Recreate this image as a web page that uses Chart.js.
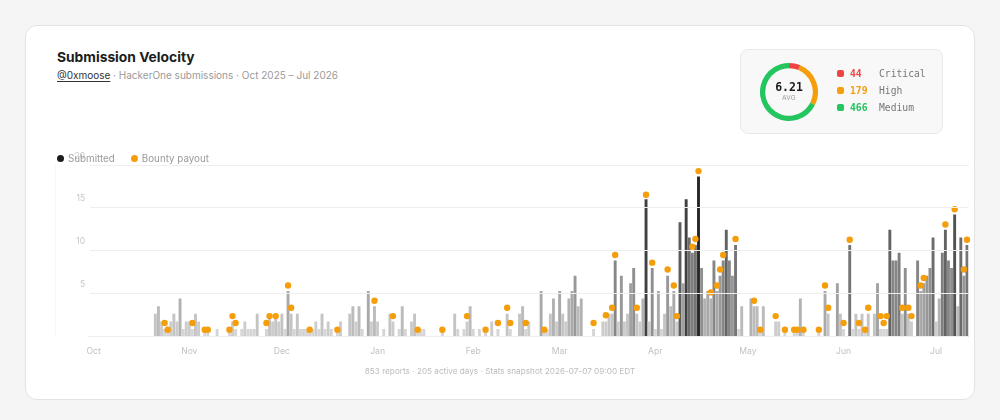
<!DOCTYPE html>
<html>
<head>
<meta charset="utf-8">
<script src="https://cdn.jsdelivr.net/npm/chart.js@4.4.1/dist/chart.umd.min.js"></script>
<style>
  body { margin: 0; background: #f5f5f5; font-family: 'Inter', sans-serif; }
  .card { position: absolute; left: 25px; top: 25px; width: 948px; height: 373px; background: #fff;
          border: 1px solid #e4e4e4; border-radius: 12px; }
  .title { position: absolute; left: 57px; top: 49px; font-size: 13.8px; font-weight: 700; color: #1c1c1c; }
  .sub { position: absolute; left: 57px; top: 69px; font-size: 10px; color: #9a9a9a; white-space: nowrap; }
  .sub u { color: #333; text-underline-offset: 2px; text-decoration-thickness: 1px; }
  .legend { position: absolute; left: 57px; top: 153px; font-size: 9.8px; color: #9a9a9a; display: flex; gap: 16px; }
  .legend span { display: flex; align-items: center; }
  .legend i { display: inline-block; width: 7px; height: 7px; border-radius: 50%; margin-right: 4px; }
  .stats { position: absolute; left: 740px; top: 49px; width: 201px; height: 83px; background: #f8f8f8;
           border: 1px solid #e9e9e9; border-radius: 8px; }
  .avg { position: absolute; left: 760px; top: 80px; width: 58px; text-align: center; }
  .avg b { display: block; font-family: 'DejaVu Sans Mono', monospace; font-size: 11.5px; color: #1a1a1a; line-height: 14px; }
  .avg small { display: block; font-size: 6.5px; color: #999; line-height: 9px; letter-spacing: 0.3px; }
  .sev { position: absolute; left: 837px; font-family: 'DejaVu Sans Mono', monospace; font-size: 9.7px;
         display: flex; align-items: center; white-space: nowrap; }
  .sev i { display: inline-block; width: 7px; height: 7px; border-radius: 2px; margin-right: 6px; }
  .sev b { display: inline-block; width: 29px; }
  .sev em { font-style: normal; color: #777; }
  .foot { position: absolute; left: 0; width: 1000px; top: 366px; text-align: center; font-size: 8.2px; color: #bcbcbc; }
  #wrap { position: absolute; left: 55px; top: 150px; width: 922px; height: 217px; }
  #donutWrap { position: absolute; left: 760px; top: 63px; width: 58px; height: 58px; }
</style>
</head>
<body>
<div class="card"></div>
<div class="title">Submission Velocity</div>
<div class="sub"><u>@0xmoose</u> · HackerOne submissions · Oct 2025 – Jul 2026</div>

<div class="stats"></div>
<div id="donutWrap"><canvas id="severityDonut"></canvas></div>
<div class="avg"><b>6.21</b><small>AVG</small></div>
<div class="sev" style="top:68px"><i style="background:#ef4444"></i><b style="color:#ef4444">44</b><em>Critical</em></div>
<div class="sev" style="top:85px"><i style="background:#f59e0b"></i><b style="color:#f59e0b">179</b><em>High</em></div>
<div class="sev" style="top:102px"><i style="background:#22c55e"></i><b style="color:#22c55e">466</b><em>Medium</em></div>

<div id="wrap"><canvas id="velocityChart"></canvas></div>
<div class="legend">
  <span><i style="background:#1c1c1c"></i>Submitted</span>
  <span><i style="background:#f59e0b"></i>Bounty payout</span>
</div>
<div class="foot">853 reports · 205 active days · Stats snapshot 2026-07-07 09:00 EDT</div>

<script>
// day offsets are counted from 2025-10-01
const activeDay = [20,21,22,23,24,25,26,27,28,29,30,31,32,33,34,36,37,40,44,45,46,48,49,50,51,52,53,56,57,58,59,60,61,62,63,64,65,66,
  67,68,69,70,71,72,73,74,75,76,77,79,80,83,84,85,86,87,89,90,91,92,94,96,97,99,100,101,103,104,105,106,107,113,
  117,118,120,121,122,123,125,127,129,131,134,135,138,139,140,141,145,146,147,148,149,150,151,152,153,154,155,156,157,158,162,
  165,166,167,168,169,170,171,172,173,174,175,176,177,178,179,180,181,182,183,184,185,186,187,188,189,190,191,192,193,194,195,196,197,198,199,200,201,202,203,204,205,206,207,208,209,210,
  213,214,215,216,217,221,222,224,227,228,229,230,235,237,238,241,242,243,245,246,247,248,249,250,251,253,254,
  255,256,257,258,259,260,261,262,263,264,265,267,268,269,270,271,272,273,274,275,276,277,278,279,280,281,282,283];
const submitted = [3,4,2,1,1,2,3,2,5,1,2,2,1,3,2,1,1,1,1,2,1,1,2,1,1,1,3,1,3,2,3,2,3,1,6,3,1,3,
  1,1,1,1,1,2,1,3,1,2,1,1,2,3,4,2,4,1,6,2,4,2,1,3,2,1,4,1,2,3,1,1,1,1,
  3,1,1,2,4,1,1,1,2,1,3,1,3,4,1,2,6,1,1,3,5,2,6,3,2,5,6,8,4,5,1,
  2,2,3,3,10,2,8,2,3,7,9,3,2,5,18,2,9,1,6,1,3,8,4,6,2,15,7,18,13,11,12,21,9,5,6,5,10,6,8,10,14,10,8,12,1,4,
  5,4,4,1,4,2,2,1,1,1,5,1,1,6,3,7,3,1,12,1,3,1,3,1,3,3,7,
  1,1,1,14,10,10,11,3,9,3,2,10,6,7,8,9,13,2,5,11,14,10,9,16,4,13,8,12];

const bountyDay = [23,24,32,36,37,44,45,46,56,57,59,63,64,70,79,91,97,105,113,121,127,131,134,135,140,146,162,
  166,168,169,176,179,181,186,188,189,194,195,196,200,202,203,204,208,214,216,221,224,227,228,230,235,237,238,
  243,245,248,250,251,255,256,257,262,264,265,268,269,276,279,282,283];
const bountyLevel = [1.8,0.9,1.8,0.9,0.9,0.9,2.7,1.8,1.8,2.7,2.7,6.7,3.8,0.9,0.9,4.7,2.7,0.9,0.9,2.7,0.9,1.8,3.8,1.8,1.8,0.9,1.8,
  2.8,3.8,10.7,3.8,18.6,9.7,8.8,6.7,2.7,11.8,12.8,21.7,5.8,6.7,8.8,10.7,12.8,4.7,0.9,2.7,0.9,0.9,0.9,0.9,0.9,6.7,3.8,
  1.8,12.7,1.8,0.9,3.8,2.7,1.8,2.7,3.8,3.8,2.7,6.7,7.7,14.7,16.7,8.8,12.7];

const monthTicks = ['Oct', 'Nov', 'Dec', 'Jan', 'Feb', 'Mar', 'Apr', 'May', 'Jun', 'Jul'];
const monthStarts = ['2025-10-01', '2025-11-01', '2025-12-01', '2026-01-01', '2026-02-01',
  '2026-03-01', '2026-04-01', '2026-05-01', '2026-06-01', '2026-07-01'];
const yTicks = [5, 10, 15, 20];

const severityLabels = ['Critical', 'High', 'Medium'];
const severityCounts = [44, 179, 466];
const severityColors = ['#ef4444', '#f59e0b', '#22c55e'];

// one category per calendar day, 2025-09-30 .. 2026-07-11
const days = [];
const firstDay = Date.UTC(2025, 8, 30);
for (let i = 0; i < 285; i++) {
  days.push(new Date(firstDay + i * 86400000).toISOString().slice(0, 10));
}

const barData = days.map(() => null);
const dotData = days.map(() => null);
activeDay.forEach((d, i) => { barData[d + 1] = submitted[i]; });
bountyDay.forEach((d, i) => { dotData[d + 1] = bountyLevel[i]; });

function shade(c) {
  if (c == null) return 'rgba(0,0,0,0)';
  const a = 0.13 + 0.72 * Math.min(c, 21) / 21;
  const v = Math.round(255 * (1 - a));
  return 'rgb(' + v + ',' + v + ',' + v + ')';
}

const ctx = document.getElementById('velocityChart');

new Chart(ctx, {
  type: 'bar',
  data: {
    labels: days,
    datasets: [{
      type: 'line',
      label: 'Bounty payout',
      data: dotData,
      yAxisID: 'count',
      showLine: false,
      pointRadius: 3.2,
      pointBorderWidth: 0,
      pointBackgroundColor: '#f59e0b',
      order: -1
    }, {
      label: 'Submitted',
      data: barData,
      yAxisID: 'count',
      backgroundColor: barData.map(shade),
      categoryPercentage: 1,
      barPercentage: 0.94,
      order: 1
    }]
  },
  options: {
    responsive: true,
    maintainAspectRatio: false,
    animation: false,
    events: [],
    layout: { padding: { top: 15, right: 0, left: 0, bottom: 0 } },
    plugins: { legend: { display: false }, tooltip: { enabled: false } },
    scales: {
      x: {
        offset: true,
        grid: { display: false, drawTicks: false },
        border: { color: '#e4e4e4' },
        ticks: {
          autoSkip: false,
          maxRotation: 0,
          minRotation: 0,
          padding: 10,
          color: '#c2c2c2',
          font: { family: 'Inter', size: 8.6 },
          callback: function (value, index) {
            const k = monthStarts.indexOf(days[index]);
            return k >= 0 ? monthTicks[k] : '';
          }
        }
      },
      y: {
        min: 0,
        max: 20,
        afterBuildTicks: function (scale) {
          scale.ticks = [0].concat(yTicks).map(v => ({ value: v }));
        },
        afterFit: function (scale) { scale.width = 34; },
        grid: { color: '#eeeeee', drawTicks: false, z: 1 },
        border: { color: '#eeeeee' },
        ticks: {
          padding: 4,
          labelOffset: -9,
          color: '#c6c6c6',
          font: { family: 'Inter', size: 8.4 },
          callback: v => (v === 0 ? '' : v)
        }
      },
      count: {
        axis: 'y',
        position: 'right',
        display: false,
        min: 0,
        max: 22.5
      }
    }
  }
});

const ctx1 = document.getElementById('severityDonut');

new Chart(ctx1, {
  type: 'doughnut',
  data: {
    labels: severityLabels,
    datasets: [{
      data: severityCounts,
      backgroundColor: severityColors,
      borderWidth: 0
    }]
  },
  options: {
    responsive: true,
    maintainAspectRatio: false,
    animation: false,
    events: [],
    cutout: '82%',
    plugins: { legend: { display: false }, tooltip: { enabled: false } }
  }
});
</script>
</body>
</html>
